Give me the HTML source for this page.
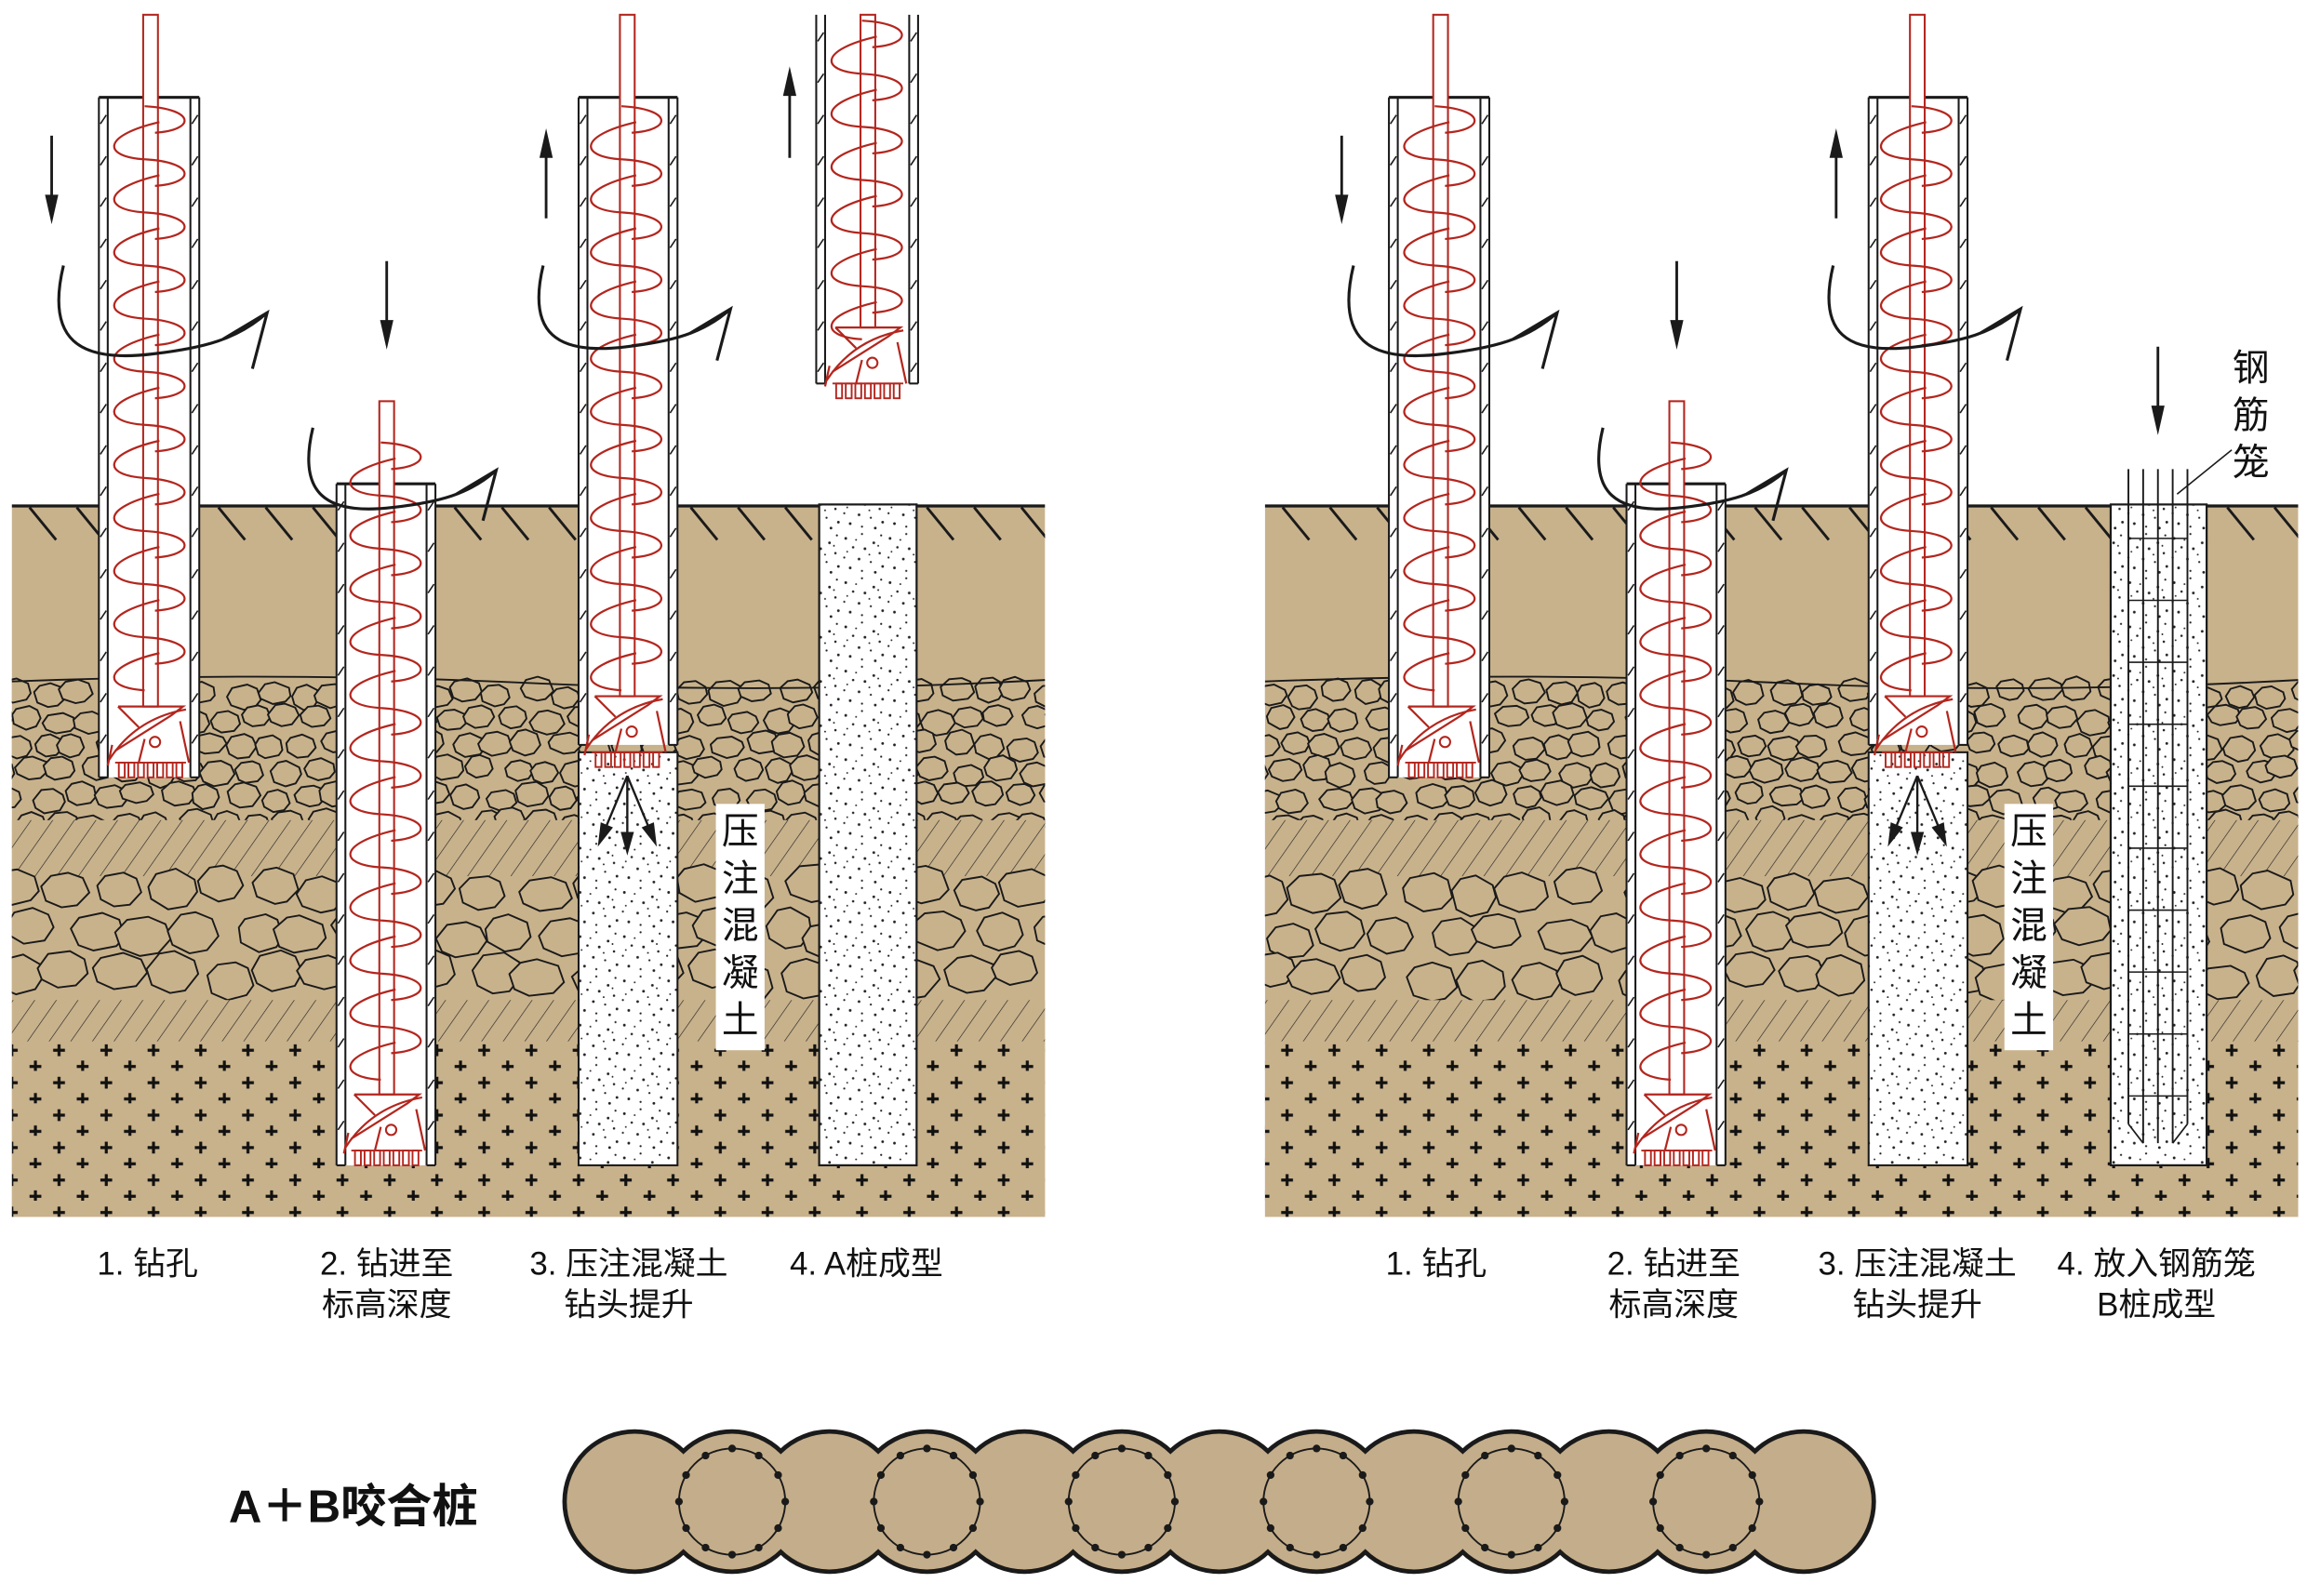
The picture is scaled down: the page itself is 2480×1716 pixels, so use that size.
<!DOCTYPE html>
<html><head><meta charset="utf-8">
<style>
html,body{margin:0;padding:0;background:#fff;width:2480px;height:1716px;overflow:hidden}
svg{display:block}
text{font-family:"Liberation Sans","Noto Sans CJK SC",sans-serif}
</style></head>
<body>
<svg id="s" width="2480" height="1716" viewBox="0 0 1563 1082" preserveAspectRatio="none" xmlns="http://www.w3.org/2000/svg">
<defs>
<pattern id="hatch" width="12" height="12" patternUnits="userSpaceOnUse" patternTransform="rotate(35)">
<rect width="12" height="12" fill="#c8b28c"/><line x1="0" y1="0" x2="0" y2="12" stroke="#222" stroke-width="0.8"/></pattern>
<pattern id="cross" width="32" height="22" patternUnits="userSpaceOnUse">
<rect width="32" height="22" fill="#c8b28c"/>
<path d="M8 4v8M4 8h8M24 15v8M20 19h8" stroke="#111" stroke-width="2"/></pattern>
<pattern id="conc" width="30" height="30" patternUnits="userSpaceOnUse">
<rect width="30" height="30" fill="#fff"/>
<g fill="#222">
<circle cx="3" cy="5" r="0.9"/><circle cx="14" cy="2" r="0.7"/><circle cx="22" cy="8" r="0.9"/><circle cx="27" cy="3" r="0.7"/>
<circle cx="8" cy="11" r="0.8"/><circle cx="16" cy="12" r="0.9"/><circle cx="26" cy="15" r="0.8"/><circle cx="2" cy="18" r="0.7"/>
<circle cx="12" cy="19" r="0.9"/><circle cx="20" cy="21" r="0.7"/><circle cx="28" cy="24" r="0.9"/><circle cx="6" cy="25" r="0.9"/>
<circle cx="14" cy="27" r="0.7"/><circle cx="23" cy="28" r="0.9"/><circle cx="10" cy="6" r="0.6"/><circle cx="19" cy="16" r="0.6"/>
<circle cx="4" cy="14" r="0.6"/><circle cx="25" cy="10" r="0.6"/></g></pattern>
<clipPath id="cl1"><rect x="8" y="342" width="700" height="483"/></clipPath>
<clipPath id="cl2"><rect x="857" y="342" width="700" height="483"/></clipPath>
</defs>
<g id="soil1" clip-path="url(#cl1)"></g>
<g id="soil2" clip-path="url(#cl2)"></g>
<g id="piles"></g>
<g font-size="22" fill="#111" text-anchor="middle">
<text x="100" y="864">1. 钻孔</text>
<text x="262" y="864">2. 钻进至</text><text x="262" y="892">标高深度</text>
<text x="426" y="864">3. 压注混凝土</text><text x="426" y="892">钻头提升</text>
<text x="587" y="864">4. A桩成型</text>
<text x="973" y="864">1. 钻孔</text>
<text x="1134" y="864">2. 钻进至</text><text x="1134" y="892">标高深度</text>
<text x="1299" y="864">3. 压注混凝土</text><text x="1299" y="892">钻头提升</text>
<text x="1461" y="864">4. 放入钢筋笼</text><text x="1461" y="892">B桩成型</text>
</g>
<text x="155" y="1032" font-size="31" font-weight="bold" fill="#111">A＋B咬合桩</text>
<g id="circ"></g>
</svg>
<script>
var NS="http://www.w3.org/2000/svg";
function el(p,t,a){var e=document.createElementNS(NS,t);for(var k in a)e.setAttribute(k,a[k]);p.appendChild(e);return e;}
function $(i){return document.getElementById(i);}
var seed=7;function rnd(){seed=(seed*16807)%2147483647;return seed/2147483647;}
var TAN="#c8b28c",RED="#b3261e";
function stones(g,x0,x1,y0,y1,s){
 for(var y=y0;y<y1+s/2;y+=s*0.8){for(var x=x0-s;x<x1+s;x+=s){
  var cx=x+(rnd()-0.5)*s*0.4+((Math.round((y-y0)/(s*0.8))%2)?s/2:0),cy=y+(rnd()-0.5)*s*0.3;
  var rx=s*(0.42+rnd()*0.12),ry=s*(0.32+rnd()*0.08),pts=[];
  for(var i=0;i<8;i++){var a=i/8*Math.PI*2+rnd()*0.3;pts.push((cx+rx*Math.cos(a)).toFixed(1)+","+(cy+ry*Math.sin(a)).toFixed(1));}
  el(g,"polygon",{points:pts.join(" "),fill:TAN,stroke:"#1a1a1a","stroke-width":1.2});}}
}
function soil(id,x0){
 var g=$(id),x1=x0+700;
 el(g,"rect",{x:x0,y:342,width:700,height:483,fill:TAN});
 var sg=el(g,"g",{});stones(sg,x0,x1,470,552,22);
 el(g,"rect",{x:x0,y:556,width:700,height:38,fill:"url(#hatch)"});
 var bg=el(g,"g",{});stones(bg,x0,x1,604,672,36);
 el(g,"rect",{x:x0,y:678,width:700,height:30,fill:"url(#hatch)"});
 el(g,"rect",{x:x0,y:706,width:700,height:119,fill:"url(#cross)"});
 el(g,"path",{d:"M"+x0+" 462 Q"+(x0+180)+" 455 "+(x0+350)+" 463 T"+x1+" 461",stroke:"#1a1a1a","stroke-width":1.2,fill:"none"});
 for(var x=x0+12;x<x1;x+=32)el(g,"line",{x1:x,y1:344,x2:x+18,y2:366,stroke:"#1a1a1a","stroke-width":1.8});
 el(g,"line",{x1:x0,y1:342.5,x2:x1,y2:342.5,stroke:"#1a1a1a","stroke-width":3});
}
soil("soil1",8);soil("soil2",857);
var P=$("piles");
function casing(x1,x2,t,b,top){
 el(P,"rect",{x:x1,y:t,width:x2-x1,height:b-t,fill:"#fff"});
 var st={stroke:"#1a1a1a","stroke-width":1.3};
 [x1,x1+6,x2-6,x2].forEach(function(x){el(P,"line",Object.assign({x1:x,y1:t,x2:x,y2:b},st));});
 if(top)el(P,"line",Object.assign({x1:x1,y1:t,x2:x2,y2:t},{stroke:"#1a1a1a","stroke-width":2}));
 for(var y=t+12;y<b-8;y+=28){el(P,"line",{x1:x1+1,y1:y+6,x2:x1+5,y2:y,stroke:"#1a1a1a","stroke-width":1});el(P,"line",{x1:x2-5,y1:y+6,x2:x2-1,y2:y,stroke:"#1a1a1a","stroke-width":1});}
 el(P,"line",{x1:x1,y1:b,x2:x1+6,y2:b,stroke:"#1a1a1a","stroke-width":1.3});el(P,"line",{x1:x2-6,y1:b,x2:x2,y2:b,stroke:"#1a1a1a","stroke-width":1.3});
}
function auger(cx,top,hs,b){
 var bt=b-48;
 el(P,"rect",{x:cx-5,y:top,width:10,height:bt-top,fill:"#fff",stroke:RED,"stroke-width":1.3});
 var d="",per=36,A=22;
 for(var y=hs;y<bt-per/2;y+=per){
  d+="M"+(cx-4)+" "+y+" C"+(cx+A*1.4)+" "+(y+2)+" "+(cx+A*1.4)+" "+(y+per*0.45)+" "+(cx+3)+" "+(y+per*0.5);
  d+=" M"+(cx+6)+" "+(y+per*0.3)+" C"+(cx-A*1.5)+" "+(y+per*0.55)+" "+(cx-A*1.5)+" "+(y+per*0.95)+" "+(cx-4)+" "+(y+per);
 }
 el(P,"path",{d:d,fill:"none",stroke:RED,"stroke-width":1.4});
 var y0=bt;
 el(P,"path",{d:"M"+(cx-22)+" "+y0+" h44 l-8 6 L"+(cx-24)+" "+(y0+30)+" M"+(cx-22)+" "+y0+" l14 14 M"+(cx+20)+" "+(y0+10)+" l6 28 M"+(cx-26)+" "+(y0+26)+" l-3 14 M"+(cx-4)+" "+(y0+22)+" l-4 16",fill:"none",stroke:RED,"stroke-width":1.4});
 el(P,"path",{d:"M"+(cx-28)+" "+(y0+36)+" Q"+(cx-10)+" "+(y0+8)+" "+(cx+24)+" "+(y0+2),fill:"none",stroke:RED,"stroke-width":1.4});
 el(P,"circle",{cx:cx+3,cy:y0+24,r:3.5,fill:"none",stroke:RED,"stroke-width":1.3});
 for(var i=-3;i<=3;i++)el(P,"rect",{x:cx+i*6.5-2,y:b-10,width:4,height:10,fill:"none",stroke:RED,"stroke-width":1.2});
 el(P,"line",{x1:cx-24,y1:b-10,x2:cx+24,y2:b-10,stroke:RED,"stroke-width":1.2});
}
function arrow(x,y1,y2){var dir=y2>y1?1:-1;
 el(P,"line",{x1:x,y1:y1,x2:x,y2:y2-dir*16,stroke:"#1a1a1a","stroke-width":1.8});
 el(P,"path",{d:"M"+(x-4.5)+" "+(y2-dir*20)+" L"+x+" "+y2+" L"+(x+4.5)+" "+(y2-dir*20)+"Z",fill:"#1a1a1a"});}
function rot(x,y,s){s=s||1;
 var tx=x+138*s,ty=y+32*s;
 var d="M"+(x)+" "+(y)+" C"+(x-12*s)+" "+(y+50*s)+" "+(x+10*s)+" "+(y+66*s)+" "+(x+60*s)+" "+(y+60*s)+" C"+(x+95*s)+" "+(y+56*s)+" "+(x+118*s)+" "+(y+50*s)+" "+tx+" "+ty;
 d+=" M"+(x+108*s)+" "+(y+50*s)+" L"+tx+" "+ty+" L"+(x+128*s)+" "+(y+70*s);
 el(P,"path",{d:d,fill:"none",stroke:"#1a1a1a","stroke-width":2});}
function labelBox(x,y){
 el(P,"rect",{x:x,y:y,width:33,height:167,fill:"#fff"});
 var t=["压","注","混","凝","土"];
 for(var i=0;i<5;i++){var e=el(P,"text",{x:x+16.5,y:y+27+i*32,"font-size":25,"text-anchor":"middle",fill:"#111"});e.textContent=t[i];}}
function spray(cx,y){
 [[-20,48],[0,54],[20,48]].forEach(function(v){
  var tx=cx+v[0],ty=y+v[1],dx=v[0],dy=v[1],L=Math.sqrt(dx*dx+dy*dy),ux=dx/L,uy=dy/L;
  el(P,"line",{x1:cx,y1:y,x2:tx-ux*12,y2:ty-uy*12,stroke:"#1a1a1a","stroke-width":1.5});
  el(P,"path",{d:"M"+tx+" "+ty+" L"+(tx-ux*16-uy*4.5)+" "+(ty-uy*16+ux*4.5)+" L"+(tx-ux*16+uy*4.5)+" "+(ty-uy*16-ux*4.5)+"Z",fill:"#1a1a1a"});});}
function group(o,right){
 casing(67+o,135+o,66,527,true);auger(102+o,10,72,527);
 arrow(35+o,92,152);rot(43+o,180);
 casing(228+o,295+o,328,790,true);auger(262+o,272,300,790);
 arrow(262+o,177,237);rot(212+o,290,0.9);
 el(P,"rect",{x:392+o,y:510,width:67,height:280,fill:"url(#conc)",stroke:"#1a1a1a","stroke-width":1.3});
 casing(392+o,459+o,66,505,true);auger(425+o,10,72,520);
 arrow(370+o,148,87);rot(368+o,180,0.92);
 spray(425+o,526);labelBox(485+o-(right?1:0),545);
}
group(0,false);group(874,true);
el(P,"rect",{x:555,y:342,width:66,height:448,fill:"url(#conc)",stroke:"#1a1a1a","stroke-width":1.4});
casing(553,622,10,260,false);auger(588,10,14,270);
arrow(535,107,45);
el(P,"rect",{x:1430,y:342,width:65,height:448,fill:"url(#conc)",stroke:"#1a1a1a","stroke-width":1.4});
[1442,1452,1462,1472,1482].forEach(function(x,i){var bot=(i==0||i==4)?762:775;el(P,"line",{x1:x,y1:318,x2:x,y2:bot,stroke:"#1a1a1a","stroke-width":1.2});});
el(P,"path",{d:"M1442 762 L1452 775 M1482 762 L1472 775",stroke:"#1a1a1a","stroke-width":1.1,fill:"none"});
for(var y=365;y<760;y+=42)el(P,"line",{x1:1442,y1:y,x2:1482,y2:y,stroke:"#1a1a1a","stroke-width":1});
arrow(1462,235,295);
el(P,"line",{x1:1475,y1:335,x2:1512,y2:305,stroke:"#1a1a1a","stroke-width":1});
["钢","筋","笼"].forEach(function(c,i){var e=el(P,"text",{x:1525,y:258+i*32,"font-size":25,"text-anchor":"middle",fill:"#111"});e.textContent=c;});
var C=$("circ"),cs=[];for(var i=0;i<13;i++)cs.push(430+i*66);
cs.forEach(function(x){el(C,"ellipse",{cx:x,cy:1018,rx:47,ry:47,fill:"#1a1a1a",stroke:"#1a1a1a","stroke-width":4});});
cs.forEach(function(x){el(C,"ellipse",{cx:x,cy:1018,rx:46,ry:46,fill:"#c4ad8a"});});
cs.forEach(function(x,i){if(i%2==1){el(C,"circle",{cx:x,cy:1018,r:36,fill:"none",stroke:"#1a1a1a","stroke-width":1.2});
 for(var k=0;k<12;k++){var a=k/12*Math.PI*2;el(C,"circle",{cx:x+36*Math.cos(a),cy:1018+36*Math.sin(a),r:2.6,fill:"#1a1a1a"});}}});
</script>
</body></html>
